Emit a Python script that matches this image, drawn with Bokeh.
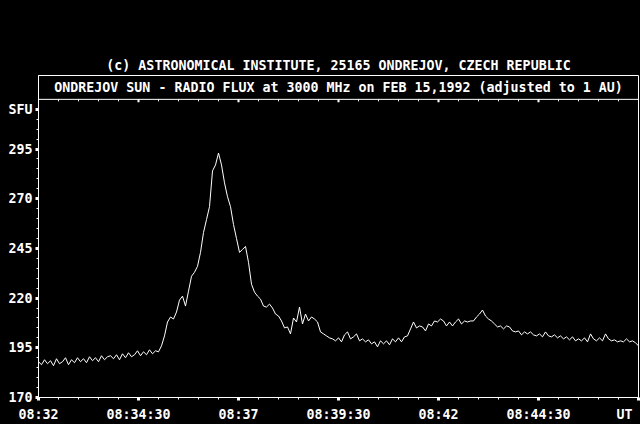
import numpy as np
from bokeh.plotting import figure
from bokeh.models import (Range1d, FixedTicker, LinearAxis, Label, Span,
                          GlobalInlineStyleSheet, ColumnDataSource)
from bokeh.embed import file_html
from bokeh.resources import INLINE

# ---------------- data ----------------
copyright_text = "(c) ASTRONOMICAL INSTITUTE, 25165 ONDREJOV, CZECH REPUBLIC"
title_text = "ONDREJOV SUN - RADIO FLUX at 3000 MHz on FEB 15,1992 (adjusted to 1 AU)"
y_unit = "SFU"
x_unit = "UT"

# seconds after 08:32:00 UT, one sample every 4.5 s
sample_step = 4.5
flux = [
    188, 186.5, 189, 187, 188.5, 186, 189.5, 187, 188, 190,
    186.5, 189, 187.5, 190, 188, 189.5, 187.5, 190.5, 188.5, 190,
    188, 191, 189, 190.5, 191, 189.5, 191.5, 189, 192, 190,
    192.5, 190.5, 191.5, 193.5, 191, 193, 191.5, 194, 192, 193.5,
    193,
    196, 201, 208, 210.5, 209.5, 213, 219, 221, 216, 223.5,
    231, 233, 236, 243, 253, 259.5, 266, 284, 287, 293,
    287, 278, 271, 266, 257, 250, 243, 244.5, 246, 238,
    227, 223, 221, 219.5, 216, 215.5, 217, 215, 212, 211,
    208.5, 205, 205.5, 202, 210, 208, 215.5, 207, 212, 208.5,
    210.5, 209.5, 208, 203, 202, 201, 200, 199.5, 198.5, 200,
    198, 201.5, 203, 199.5, 200.5, 202, 198.5, 199.5, 198, 199,
    197, 198, 195.5, 198.5, 197, 198.5, 196.5, 199.5, 198, 200,
    198, 200.5, 201, 204.5, 208, 205, 206, 205.5, 203.5, 207,
    206, 208.5, 208, 209.5, 208.5, 206, 208, 206, 208, 209.5,
    207, 208.5, 208, 208.5, 208.5, 210.5, 212, 214, 211, 209.5,
    208.5, 207, 205.5, 206, 204.5, 206, 205.5, 203.5, 203, 203.5,
    201.5, 203, 202, 203, 201.5, 201, 202, 200.5, 203, 201,
    200.5, 201.5, 200, 201, 199.5, 200.5, 199, 200.5, 198.5, 199.5,
    198.5, 200, 198, 202, 199.5, 198.5, 200, 198.5, 202, 199.5,
    198.5, 199, 198, 198.5, 198, 199.5, 198, 198.5, 197.5, 196,
]

x_tick_seconds = [0, 150, 300, 450, 600, 750, 900]
x_tick_labels = ["08:32", "08:34:30", "08:37", "08:39:30", "08:42", "08:44:30",
                 x_unit + "\u2009"]
x_minor_seconds = [s for s in range(0, 901, 30) if s % 150 != 0]
y_ticks = [170, 195, 220, 245, 270, 295]
y_unit_pos = 315
y_minor = [v for v in range(175, 320, 5) if v not in y_ticks and v != y_unit_pos]
y_bottom, y_top = 170, 320
box_top = 332

times = np.arange(len(flux)) * sample_step

FONT = "DejaVu Sans Mono"
FSIZE = "13.3px"

p = figure(width=640, height=424, output_backend="svg", toolbar_location=None,
           x_range=Range1d(0, 900), y_range=Range1d(y_bottom, box_top),
           x_axis_type=None, y_axis_type=None,
           min_border_left=38, min_border_right=2, min_border_top=75,
           min_border_bottom=25,
           background_fill_color="black", border_fill_color="black",
           outline_line_color="white", outline_line_width=1)
p.stylesheets = [GlobalInlineStyleSheet(css="html, body { background: #000; }")]

p.title.text = copyright_text
p.title.align = "center"
p.title.text_color = "white"
p.title.text_font = FONT
p.title.text_font_style = "bold"
p.title.text_font_size = FSIZE
p.title.standoff = 6

y_major_all = y_ticks + [y_unit_pos]
xaxis = LinearAxis(ticker=FixedTicker(ticks=x_tick_seconds, minor_ticks=x_minor_seconds),
                   major_label_overrides={t: l for t, l in zip(x_tick_seconds, x_tick_labels)})
yaxis = LinearAxis(ticker=FixedTicker(ticks=y_major_all, minor_ticks=y_minor),
                   major_label_overrides={y_unit_pos: y_unit})
for ax in (xaxis, yaxis):
    ax.axis_line_color = "white"
    ax.major_tick_line_color = "white"
    ax.minor_tick_line_color = "white"
    ax.major_tick_line_width = 3
    ax.major_tick_in = 0
    ax.major_tick_out = 3
    ax.minor_tick_in = 0
    ax.minor_tick_out = 2
    ax.major_label_text_color = "white"
    ax.major_label_text_font = FONT
    ax.major_label_text_font_style = "bold"
    ax.major_label_text_font_size = FSIZE
xaxis.major_label_standoff = 6
yaxis.major_label_standoff = 3
p.add_layout(xaxis, "below")
p.add_layout(yaxis, "left")

# divider between title box and plotting area
p.add_layout(Span(location=y_top, dimension="width", line_color="white", line_width=1))

# ticks hanging from the divider
p.segment(x0=x_minor_seconds, x1=x_minor_seconds,
          y0=[y_top] * len(x_minor_seconds), y1=[y_top - 1] * len(x_minor_seconds),
          line_color="white", line_width=1)
inner_major = x_tick_seconds[1:-1]
p.segment(x0=inner_major, x1=inner_major,
          y0=[y_top] * len(inner_major), y1=[y_top - 1.5] * len(inner_major),
          line_color="white", line_width=2)

src = ColumnDataSource(dict(t=times, flux=flux))
p.line("t", "flux", source=src, line_color="white", line_width=1)

p.add_layout(Label(x=450, y=(y_top + box_top) / 2, text=title_text,
                   text_align="center", text_baseline="middle",
                   text_color="white", text_font=FONT, text_font_style="bold",
                   text_font_size=FSIZE))

open("out.html", "w").write(file_html(p, INLINE))
